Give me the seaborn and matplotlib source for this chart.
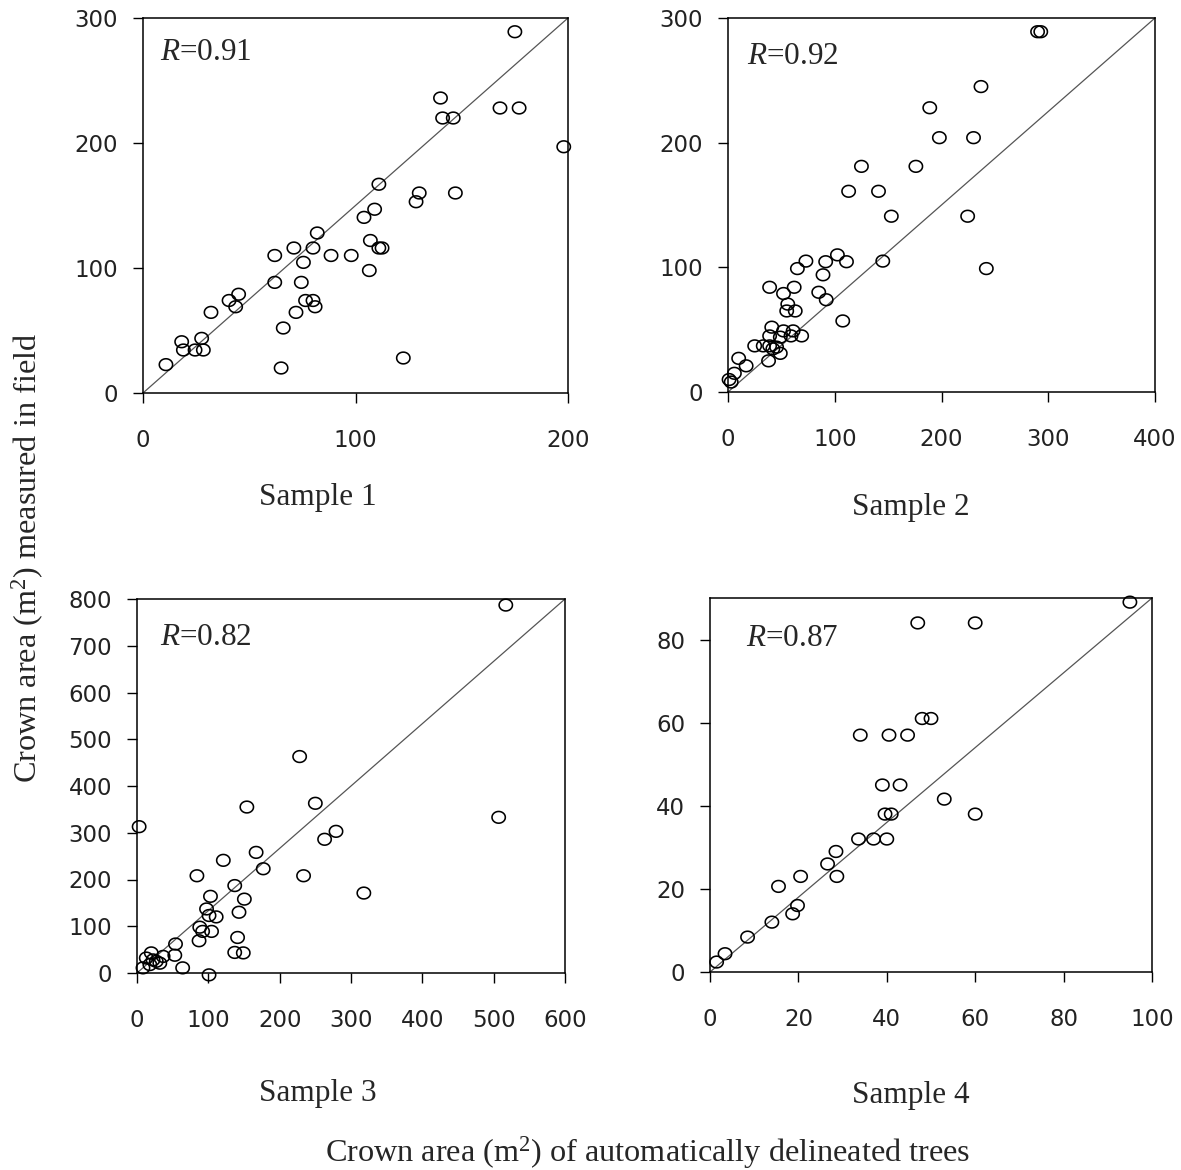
import numpy as np
import pandas as pd
import matplotlib
matplotlib.use("Agg")
import matplotlib.pyplot as plt
import seaborn as sns
from matplotlib.path import Path

# ---------------- data ----------------
s1_auto = [175, 140, 141, 146, 168, 177, 198, 111, 130, 128.5, 147, 109, 104, 82, 71, 80, 62,
           88.5, 98, 107, 111, 112.5, 75.5, 106.5, 62, 74.5, 45, 40.5, 43.6, 32, 76.5, 80, 81,
           72, 66, 27.6, 18.2, 19, 24.5, 28.4, 10.8, 65, 122.5]
s1_field = [289, 236, 220, 220, 228, 228, 197, 167, 160, 153, 160, 147, 140.5, 128, 116, 116, 110,
            110, 110, 122, 116, 116, 104.5, 98, 88.5, 88.5, 79, 74, 69, 64.5, 74, 74, 69,
            64.5, 52, 43.7, 41, 34.4, 34.4, 34.4, 22.7, 20, 28]

s2_auto = [290, 293, 237, 189, 198, 230, 125, 176, 113, 141, 153, 224.5, 145, 242, 102.5, 111,
           91.5, 73, 65, 89, 39, 62, 52, 85, 92, 56, 55, 63, 107.5,
           41, 52, 61, 69, 59, 39, 49, 25, 33, 39, 45.5, 42, 49, 38, 10, 17, 6, 1, 3]
s2_field = [289, 289, 245, 228, 204, 204, 181, 181, 161, 161, 141, 141, 105, 99, 110, 104.5,
            104.5, 105, 99, 94, 84, 84, 79, 80, 74, 70.5, 65, 65, 57,
            52, 49, 49, 45, 45, 45, 44, 37, 37, 37, 36, 34.6, 31, 25, 27, 21, 15, 10, 8]

s3_auto = [517, 507, 228, 250, 154, 3, 279, 263, 167, 121, 177, 84, 233.5, 318, 137, 103, 150.5,
           97.5, 143, 101, 111, 88, 104.5, 92, 87, 141, 137, 149, 54, 53, 64, 101,
           20, 13, 22.5, 32, 36.6, 8.4, 18, 27]
s3_field = [787, 333, 463, 363, 355, 313, 303, 286, 258, 241, 223, 208, 208, 171, 187, 164, 158,
            137, 130, 123, 120, 98, 89, 89, 69, 76, 44, 43, 62, 38, 11, -4,
            43, 32, 28, 21, 35.5, 11, 18, 25]

s4_auto = [95, 47, 60, 48, 50, 34, 40.5, 44.7, 39, 43, 53, 60, 39.6, 41, 33.6, 37, 40, 28.5,
           26.6, 28.7, 20.5, 15.5, 19.8, 18.7, 14, 8.5, 3.4, 1.5]
s4_field = [89, 84, 84, 61, 61, 57, 57, 57, 45, 45, 41.6, 38, 38, 38, 32, 32, 32, 29,
            26, 23, 23, 20.6, 16, 14, 12, 8.4, 4.4, 2.4]

r_labels = ["0.91", "0.92", "0.82", "0.87"]
sample_labels = ["Sample 1", "Sample 2", "Sample 3", "Sample 4"]
x_limits = [(0, 200), (0, 400), (0, 600), (0, 100)]
y_limits = [(0, 300), (0, 300), (0, 800), (0, 90)]
x_ticks = [[0, 100, 200], [0, 100, 200, 300, 400], list(range(0, 601, 100)), list(range(0, 101, 20))]
y_ticks = [[0, 100, 200, 300], [0, 100, 200, 300], list(range(0, 801, 100)), list(range(0, 81, 20))]

# ---------------- style ----------------
sns.set_style("ticks")
plt.rcParams['font.family'] = ['DejaVu Sans']
plt.rcParams['mathtext.fontset'] = 'custom'
plt.rcParams['mathtext.rm'] = 'Liberation Serif'
plt.rcParams['mathtext.it'] = 'Liberation Serif:italic'

W, H = 1181, 1170
fig = plt.figure(figsize=(W / 100, H / 100), dpi=100)

# axes boxes in pixels: left, right, top, bottom
boxes = [(143, 568, 18, 393), (728, 1155, 18, 392), (137, 565, 599, 973), (710, 1152, 598, 972)]
r_pos = [(0.04, 0.909), (0.045, 0.896), (0.053, 0.896), (0.081, 0.893)]
sample_pos = [(318, 497), (911, 508), (318, 1093), (911, 1096)]

t = np.linspace(0, 2 * np.pi, 64)
ellipse = Path(np.column_stack([np.cos(t), 0.88 * np.sin(t)]))

data_sets = [(s1_auto, s1_field), (s2_auto, s2_field), (s3_auto, s3_field), (s4_auto, s4_field)]

for i, (a, f) in enumerate(data_sets):
    l, r, tp, b = boxes[i]
    ax = fig.add_axes([l / W, 1 - b / H, (r - l) / W, (b - tp) / H])
    df = pd.DataFrame({"auto": a, "field": f})
    sns.scatterplot(data=df, x="auto", y="field", ax=ax, marker=ellipse, s=92,
                    facecolor="none", edgecolor="black", linewidth=1.15,
                    clip_on=False, zorder=3, legend=False)
    for coll in ax.collections:
        coll.set_facecolor("none")
        coll.set_edgecolor("black")
    xmin, xmax = x_limits[i]
    ymin, ymax = y_limits[i]
    ax.plot([xmin, xmax], [ymin, ymax], color="#555555", lw=0.9, zorder=2)
    ax.set_xlim(xmin, xmax)
    ax.set_ylim(ymin, ymax)
    ax.set_xticks(x_ticks[i])
    ax.set_yticks(y_ticks[i])
    ax.set_xlabel("")
    ax.set_ylabel("")
    for sp in ax.spines.values():
        sp.set_visible(True)
        sp.set_color("black")
        sp.set_linewidth(1.1)
    ax.tick_params(axis="both", direction="out", length=7, width=1.0, color="black",
                   labelsize=16.5, labelcolor="#222222")
    ax.tick_params(axis="x", pad=19)
    ax.tick_params(axis="y", pad=11)
    ax.text(r_pos[i][0], r_pos[i][1], "$R$=" + r_labels[i], transform=ax.transAxes,
            ha="left", va="center", fontsize=22.5, family="Liberation Serif")
    sx, sy = sample_pos[i]
    fig.text(sx / W, 1 - sy / H, sample_labels[i], ha="center", va="center",
             fontsize=22.5, family="Liberation Serif")

fig.text(648 / W, 1 - 1153 / H, "Crown area (m$^2$) of automatically delineated trees",
         ha="center", va="center", fontsize=23.2, family="Liberation Serif")
fig.text(28 / W, 1 - 558 / H, "Crown area (m$^2$) measured in field", rotation=90,
         ha="center", va="center", fontsize=23.2, family="Liberation Serif")

fig.savefig("out.png", dpi=100, facecolor="white")
